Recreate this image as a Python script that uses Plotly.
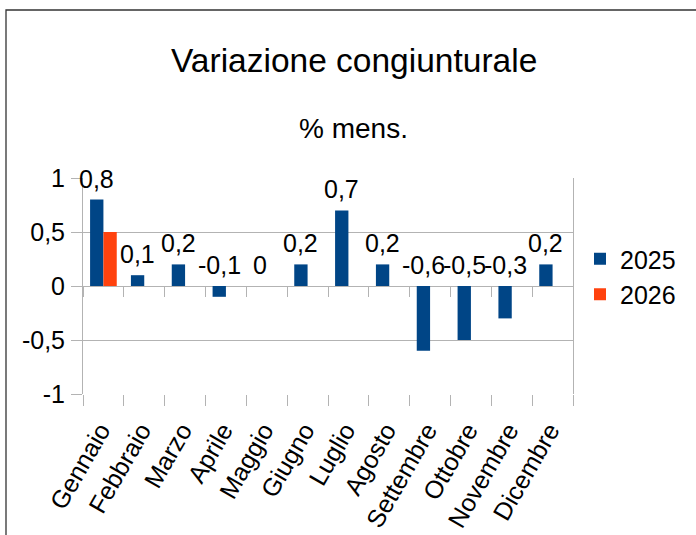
import plotly.graph_objects as go

months = ["Gennaio", "Febbraio", "Marzo", "Aprile", "Maggio", "Giugno",
          "Luglio", "Agosto", "Settembre", "Ottobre", "Novembre", "Dicembre"]
values_2025 = [0.8, 0.1, 0.2, -0.1, 0.0, 0.2, 0.7, 0.2, -0.6, -0.5, -0.3, 0.2]
values_2026 = [0.5, None, None, None, None, None, None, None, None, None, None, None]
series_names = ["2025", "2026"]
y_ticks = [-1, -0.5, 0, 0.5, 1]

W, H = 696, 535
ML, MR, MT, MB = 83, 123, 178, 141
PW, PH = W - ML - MR, H - MT - MB
FONT = "Liberation Sans, Arial, sans-serif"
GRID = "#b3b3b3"
C1, C2 = "#004586", "#ff420e"
BARGAP = 0.347
XRANGE = [-0.5, len(months) - 0.5]


def px(x):
    return (x - ML) / PW


def py(y):
    return (H - MB - y) / PH


def fmt(v):
    s = ("%g" % v).replace(".", ",")
    return s


fig = go.Figure()
fig.add_trace(go.Bar(x=months, y=values_2025, name=series_names[0],
                     marker=dict(color=C1, line=dict(width=0))))
fig.add_trace(go.Bar(x=months, y=values_2026, name=series_names[1],
                     marker=dict(color=C2, line=dict(width=0))))
# helper trace for the category axis drawn through zero
fig.add_trace(go.Scatter(x=months, y=[0] * len(months), xaxis="x2", mode="markers",
                         marker=dict(opacity=0), showlegend=False, hoverinfo="skip"))

cat_w = PW / len(months)
bar_w = cat_w * (1 - BARGAP) / 2
annotations = []
for m, v in zip(months, values_2025):
    annotations.append(dict(x=m, y=max(v, 0), xref="x", yref="y", text=fmt(v),
                            showarrow=False, yanchor="bottom", xanchor="center",
                            xshift=-bar_w / 2, yshift=5,
                            font=dict(size=25, color="#000000", family=FONT)))
annotations.append(dict(x=px(353.5), y=py(60), xref="paper", yref="paper",
                        text="Variazione congiunturale", showarrow=False,
                        xanchor="center", yanchor="middle",
                        font=dict(size=33.5, color="#000000", family=FONT)))
annotations.append(dict(x=px(353.5), y=py(128), xref="paper", yref="paper",
                        text="% mens.", showarrow=False,
                        xanchor="center", yanchor="middle",
                        font=dict(size=28, color="#000000", family=FONT)))

fig.update_layout(
    width=W, height=H,
    margin=dict(l=ML, r=MR, t=MT, b=MB, pad=0, autoexpand=False),
    paper_bgcolor="white", plot_bgcolor="white",
    separators=",.",
    barmode="group", bargap=BARGAP, bargroupgap=0,
    font=dict(family=FONT, size=25, color="#000000"),
    showlegend=True,
    legend=dict(x=px(580), y=py(276.5), xanchor="left", yanchor="middle",
                font=dict(size=25, family=FONT), bgcolor="rgba(0,0,0,0)",
                tracegroupgap=0, itemwidth=30),
    xaxis=dict(type="category", categoryorder="array", categoryarray=months,
               range=XRANGE, autorange=False,
               showgrid=False, zeroline=False, showline=False, automargin=False,
               ticks="outside", tickson="boundaries", ticklen=11,
               tickcolor=GRID, tickwidth=1, tickangle=-60,
               ticklabelstandoff=16, ticklabelshift=-3,
               tickfont=dict(size=25, family=FONT)),
    xaxis2=dict(type="category", categoryorder="array", categoryarray=months,
                overlaying="x", anchor="free", position=0.5, matches="x",
                showgrid=False, zeroline=False, showline=False, automargin=False,
                ticks="outside", tickson="boundaries", ticklen=10,
                tickcolor=GRID, tickwidth=1, showticklabels=False),
    yaxis=dict(range=[-1, 1], tickvals=y_ticks, ticktext=[fmt(v) for v in y_ticks],
               showgrid=True, gridcolor=GRID, gridwidth=1, automargin=False,
               zeroline=True, zerolinecolor=GRID, zerolinewidth=1,
               showline=True, linecolor=GRID, linewidth=1, mirror=True,
               ticks="outside", ticklen=11, tickcolor=GRID,
               tickfont=dict(size=25, family=FONT), ticklabelstandoff=1),
    annotations=annotations,
    shapes=[dict(type="rect", xref="paper", yref="paper",
                 x0=px(6), x1=px(720), y0=py(10), y1=py(560),
                 line=dict(color="#333333", width=1.3), layer="below")],
)

fig.write_html("out.html", config={"displayModeBar": False},
               post_script="document.body.style.margin='0';document.body.style.overflow='hidden';")
